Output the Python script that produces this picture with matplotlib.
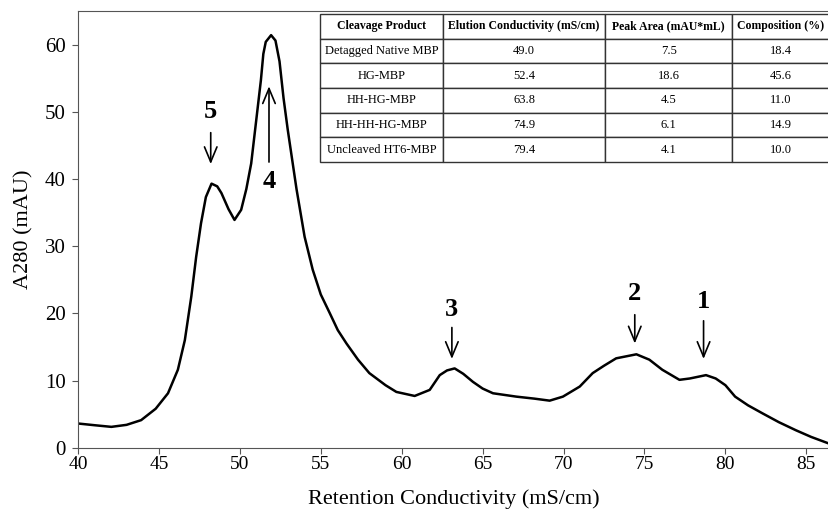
import matplotlib.pyplot as plt

plt.rcParams['font.family'] = ['Liberation Serif', 'DejaVu Serif']

# chromatogram trace
conductivity = [40.0, 41.0, 42.06, 43.0, 43.9, 44.8, 45.56, 46.17, 46.6, 47.0,
                47.3, 47.6, 47.9, 48.25, 48.6, 48.86, 49.3, 49.67, 50.08, 50.4,
                50.7, 51.0, 51.3, 51.45, 51.6, 51.93, 52.2, 52.45, 52.7, 52.96, 53.5,
                54.0, 54.5, 55.0, 55.56, 56.05, 56.59, 57.3, 58.0, 59.0, 59.67, 60.8,
                61.73, 62.35, 62.8, 63.27, 63.8, 64.4, 65.0, 65.64, 67.08, 68.2,
                69.14, 69.96, 71.0, 71.8, 72.5, 73.25, 74.5, 75.3, 76.1, 77.16,
                77.8, 78.8, 79.4, 80.0, 80.6, 81.4, 82.3, 83.3, 84.35, 85.3, 86.36]
a280 = [3.6, 3.35, 3.1, 3.4, 4.1, 5.8, 8.1, 11.6, 16.0, 22.5,
        28.4, 33.4, 37.3, 39.3, 38.9, 37.9, 35.5, 33.9, 35.4, 38.5,
        42.3, 48.5, 54.7, 58.6, 60.4, 61.4, 60.6, 57.5, 52.0, 47.3, 38.5,
        31.4, 26.5, 22.8, 20.0, 17.5, 15.5, 13.1, 11.1, 9.3, 8.3, 7.7,
        8.6, 10.8, 11.5, 11.8, 11.0, 9.8, 8.8, 8.1, 7.6, 7.3,
        7.0, 7.6, 9.1, 11.1, 12.2, 13.3, 13.9, 13.1, 11.6, 10.1,
        10.3, 10.8, 10.3, 9.3, 7.6, 6.3, 5.1, 3.8, 2.6, 1.6, 0.65]

# peak markers: label, x, text y, arrow start y, arrow end y
peak_labels = ['5', '4', '3', '2', '1']
peak_x = [48.2, 51.8, 63.1, 74.4, 78.65]
label_y = [50.0, 39.6, 20.5, 23.0, 21.7]
arrow_from = [47.3, 42.1, 18.3, 20.2, 19.3]
arrow_to = [41.8, 54.2, 12.8, 15.1, 12.8]

# inset table
col_labels = ['Cleavage Product', 'Elution Conductivity (mS/cm)',
              'Peak Area (mAU*mL)', 'Composition (%)']
products = ['Detagged Native MBP', 'HG-MBP', 'HH-HG-MBP', 'HH-HH-HG-MBP', 'Uncleaved HT6-MBP']
elution = ['49.0', '52.4', '63.8', '74.9', '79.4']
peak_area = ['7.5', '18.6', '4.5', '6.1', '4.1']
composition = ['18.4', '45.6', '11.0', '14.9', '10.0']

fig = plt.figure(figsize=(8.29, 5.15), dpi=100)
ax = fig.add_axes([0.0941, 0.1307, 0.9059, 0.848])

ax.plot(conductivity, a280, color='black', lw=1.8)

for lab, x, ty, y0, y1 in zip(peak_labels, peak_x, label_y, arrow_from, arrow_to):
    ax.annotate('', xy=(x, y1), xytext=(x, y0),
                arrowprops=dict(arrowstyle='->,head_length=0.6,head_width=0.25',
                                color='black', lw=1.2, mutation_scale=18))
    ax.text(x, ty, lab, ha='center', va='center', fontsize=19, fontweight='bold')

ax.set_xlim(40, 86.4)
ax.set_ylim(0, 65)
ax.set_xticks(range(40, 86, 5))
ax.set_yticks(range(0, 61, 10))
ax.tick_params(axis='x', labelsize=14, length=4, pad=2, color='#555555')
ax.tick_params(axis='y', labelsize=15, length=4, pad=5, color='#555555')
for s in ['left', 'bottom', 'top']:
    ax.spines[s].set_color('#555555')
ax.spines['right'].set_visible(False)

ax.set_xlabel('Retention Conductivity (mS/cm)', fontsize=16, labelpad=12)
ax.set_ylabel('A280 (mAU)', fontsize=16, labelpad=8)

cells = [list(r) for r in zip(products, elution, peak_area, composition)]
tbl = ax.table(cellText=cells, colLabels=col_labels, cellLoc='center',
               colWidths=[0.242, 0.318, 0.25, 0.19],
               bbox=[0.322, 0.654, 0.678, 0.339])
tbl.auto_set_font_size(False)
for (r, c), cell in tbl.get_celld().items():
    cell.set_edgecolor('#333333')
    cell.set_linewidth(1.0)
    cell.set_facecolor('white')
    cell.get_text().set_fontsize(9)
    if r == 0:
        cell.get_text().set_fontweight('bold')
        cell.get_text().set_fontsize(8.5)

fig.savefig('out.png', dpi=100)
